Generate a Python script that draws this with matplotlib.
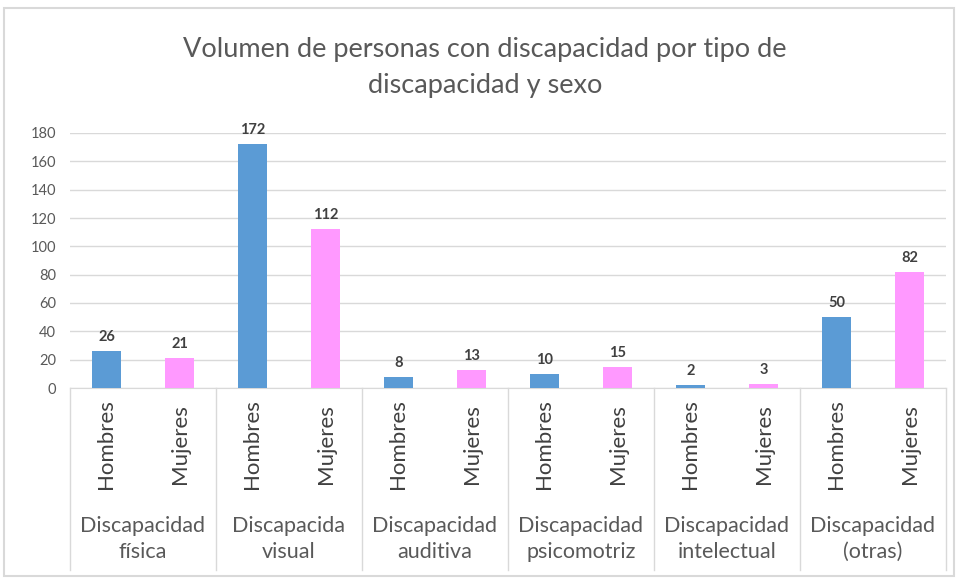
import matplotlib
matplotlib.use("Agg")
import matplotlib.pyplot as plt
from matplotlib.patches import Rectangle
import matplotlib.transforms as mtransforms

groups = ["Discapacidad\nfísica", "Discapacida\nvisual", "Discapacidad\nauditiva",
          "Discapacidad\npsicomotriz", "Discapacidad\nintelectual", "Discapacidad\n(otras)"]
sexes = ["Hombres", "Mujeres"]
hombres = [26, 172, 8, 10, 2, 50]
mujeres = [21, 112, 13, 15, 3, 82]
yticks = [0, 20, 40, 60, 80, 100, 120, 140, 160, 180]
title = "Volumen de personas con discapacidad por tipo de\ndiscapacidad y sexo"

plt.rcParams['font.family'] = ['Lato', 'DejaVu Sans']

fig = plt.figure(figsize=(9.57, 5.78), dpi=100)
W, H = 957, 578
ax = fig.add_axes([70 / W, 1 - 388 / H, (946 - 70) / W, (388 - 133) / H])

blue = "#5B9BD5"
pink = "#FF99FF"
values, colors, xs = [], [], []
for i in range(len(groups)):
    values += [hombres[i], mujeres[i]]
    colors += [blue, pink]
    xs += [2 * i, 2 * i + 1]

bars = ax.bar(xs, values, width=0.41, color=colors, zorder=3)
for x, v in zip(xs, values):
    ax.text(x, v + 5, str(v), ha="center", va="bottom", fontsize=10.5,
            fontweight="bold", color="#404040")

ax.set_xlim(-0.5, 2 * len(groups) - 0.5)
ax.set_ylim(0, 180)
ax.set_yticks(yticks)
ax.tick_params(axis="y", length=0, labelsize=10.5, colors="#595959", pad=10)
ax.set_xticks([])
ax.grid(axis="y", color="#d9d9d9", linewidth=1, zorder=0)
for s in ["top", "right", "left"]:
    ax.spines[s].set_visible(False)
ax.spines["bottom"].set_color("#d9d9d9")

trans = mtransforms.blended_transform_factory(ax.transData, ax.transAxes)
bottom_frac = (388 - 570) / 255
for k in range(len(groups) + 1):
    ax.plot([2 * k - 0.5, 2 * k - 0.5], [0, bottom_frac], transform=trans,
            color="#d9d9d9", linewidth=1, clip_on=False)
for x in xs:
    ax.text(x, (388 - 444) / 255, sexes[x % 2], rotation=90, ha="center", va="center",
            transform=trans, fontsize=16, color="#404040")
for i, g in enumerate(groups):
    ax.text(2 * i + 0.5, (388 - 539) / 255, g, ha="center", va="center",
            transform=trans, fontsize=15.5, color="#595959", linespacing=1.35)

fig.text(485 / W, 1 - 67 / H, title, ha="center", va="center", fontsize=19.5,
         color="#595959", linespacing=1.55)

fig.patches.append(Rectangle((4 / W, 2 / H), (954 - 4) / W, (570 - 2) / H,
                             transform=fig.transFigure, fill=False,
                             edgecolor="#d9d9d9", linewidth=1.5))

fig.savefig("out.png", dpi=100)
